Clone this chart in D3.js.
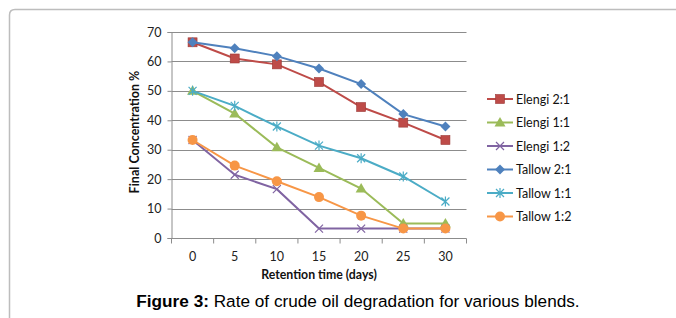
<!DOCTYPE html>
<html>
<head>
<meta charset="UTF-8">
<title>Figure 3</title>
<script src="https://d3js.org/d3.v7.min.js"></script>
<style>
  body { margin: 0; background: #fff; }
  svg { display: block; }
</style>
</head>
<body>
<div id="chart"></div>
<script>
// retention time categories (days)
const days = ["0", "5", "10", "15", "20", "25", "30"];
const yTicks = [0, 10, 20, 30, 40, 50, 60, 70];

// final concentration % per blend
const elengi21 = [66.5, 61, 59, 53, 44.5, 39.2, 33.3];
const elengi11 = [50, 42.3, 30.8, 23.8, 16.8, 4.9, 4.9];
const elengi12 = [33.3, 21.5, 16.6, 3.2, 3.2, 3.2, 3.2];
const tallow21 = [66.5, 64.5, 61.8, 57.6, 52.3, 42.1, 37.9];
const tallow11 = [50, 44.9, 37.9, 31.4, 27.1, 20.9, 12.4];
const tallow12 = [33.3, 24.6, 19.3, 13.9, 7.6, 3.2, 3.2];

const series = [
  { name: "Elengi 2:1", values: elengi21, color: "#BE4B48", marker: "square" },
  { name: "Elengi 1:1", values: elengi11, color: "#9BBB59", marker: "triangle" },
  { name: "Elengi 1:2", values: elengi12, color: "#8064A2", marker: "x" },
  { name: "Tallow 2:1", values: tallow21, color: "#4F81BD", marker: "diamond" },
  { name: "Tallow 1:1", values: tallow11, color: "#4BACC6", marker: "star" },
  { name: "Tallow 1:2", values: tallow12, color: "#F79646", marker: "circle" }
];

const width = 676, height = 318;
const plot = { left: 171.5, right: 466.5, top: 32, bottom: 238 };

const svg = d3.select("#chart").append("svg")
  .attr("width", width)
  .attr("height", height);

// outer frame with rounded top-left corner
svg.append("path")
  .attr("d", "M9.5,318 L9.5,15 Q9.5,9.5 15,9.5 L676,9.5")
  .attr("fill", "none")
  .attr("stroke", "#bdbdbd")
  .attr("stroke-width", 1.5);

const x = d3.scaleBand().domain(days).range([plot.left, plot.right]);
const y = d3.scaleLinear().domain([0, 70]).range([plot.bottom, plot.top]);

const font = "Lato, 'Open Sans', sans-serif";

// gridlines
svg.append("g")
  .selectAll("line")
  .data(yTicks.filter(d => d > 0))
  .enter().append("line")
  .attr("x1", plot.left).attr("x2", plot.right)
  .attr("y1", d => Math.round(y(d)) + 0.5).attr("y2", d => Math.round(y(d)) + 0.5)
  .attr("stroke", "#8c8c8c")
  .attr("stroke-width", 1);

// y axis
const yAxis = svg.append("g")
  .attr("transform", "translate(" + plot.left + ",0)")
  .call(d3.axisLeft(y).tickValues(yTicks).tickSize(4).tickPadding(6));
yAxis.select(".domain").attr("stroke", "#8c8c8c");
yAxis.selectAll(".tick line").attr("stroke", "#8c8c8c");
yAxis.selectAll("text").attr("font-family", font).attr("font-size", 12.5).attr("fill", "#222");

// x axis: ticks between categories
const xAxis = svg.append("g")
  .attr("transform", "translate(0," + Math.round(plot.bottom) + ".5)");
xAxis.append("line")
  .attr("x1", plot.left).attr("x2", plot.right)
  .attr("stroke", "#8c8c8c");
xAxis.selectAll(".tk")
  .data(days.concat(["end"]))
  .enter().append("line")
  .attr("x1", (d, i) => plot.left + i * x.bandwidth())
  .attr("x2", (d, i) => plot.left + i * x.bandwidth())
  .attr("y1", 0).attr("y2", 5)
  .attr("stroke", "#8c8c8c");
xAxis.selectAll("text")
  .data(days)
  .enter().append("text")
  .attr("x", d => x(d) + x.bandwidth() / 2)
  .attr("y", 22)
  .attr("text-anchor", "middle")
  .attr("font-family", font)
  .attr("font-size", 12.5)
  .attr("fill", "#222")
  .text(d => d);

// axis titles
svg.append("text")
  .attr("x", (plot.left + plot.right) / 2)
  .attr("y", 279)
  .attr("text-anchor", "middle")
  .attr("font-family", font)
  .attr("font-weight", "bold")
  .attr("font-size", 12.3)
  .attr("fill", "#111")
  .text("Retention time (days)");

svg.append("text")
  .attr("transform", "translate(138.5,132) rotate(-90)")
  .attr("text-anchor", "middle")
  .attr("font-family", font)
  .attr("font-weight", "bold")
  .attr("font-size", 12.5)
  .attr("fill", "#111")
  .text("Final Concentration %");

function drawMarker(g, type, color) {
  if (type === "square") {
    g.append("rect").attr("x", -4.5).attr("y", -4.5).attr("width", 9).attr("height", 9)
      .attr("fill", color).attr("stroke", "#9c3a37").attr("stroke-width", 0.6);
  } else if (type === "diamond") {
    g.append("path").attr("d", "M0,-5L5,0L0,5L-5,0Z").attr("fill", color);
  } else if (type === "triangle") {
    g.append("path").attr("d", "M0,-5.5L5.5,4L-5.5,4Z").attr("fill", color);
  } else if (type === "circle") {
    g.append("circle").attr("r", 5).attr("fill", color);
  } else if (type === "x") {
    g.append("path").attr("d", "M-4,-4L4,4M-4,4L4,-4")
      .attr("stroke", color).attr("stroke-width", 1.2).attr("fill", "none");
  } else if (type === "star") {
    g.append("path").attr("d", "M-4,-4L4,4M-4,4L4,-4M0,-5L0,5")
      .attr("stroke", color).attr("stroke-width", 1.2).attr("fill", "none");
  }
}

const line = d3.line()
  .x((d, i) => x(days[i]) + x.bandwidth() / 2)
  .y(d => y(d));

series.forEach(function(s) {
  const g = svg.append("g");
  g.append("path")
    .attr("d", line(s.values))
    .attr("fill", "none")
    .attr("stroke", s.color)
    .attr("stroke-width", 2);
  s.values.forEach(function(v, i) {
    const m = g.append("g")
      .attr("transform", "translate(" + (x(days[i]) + x.bandwidth() / 2) + "," + y(v) + ")");
    drawMarker(m, s.marker, s.color);
  });
});

// legend
const legend = svg.append("g").attr("transform", "translate(487,99)");
series.forEach(function(s, i) {
  const row = legend.append("g").attr("transform", "translate(0," + i * 23.5 + ")");
  row.append("line").attr("x1", 0).attr("x2", 26).attr("stroke", s.color).attr("stroke-width", 2);
  const m = row.append("g").attr("transform", "translate(13,0)");
  drawMarker(m, s.marker, s.color);
  row.append("text")
    .attr("x", 29)
    .attr("y", 4.5)
    .attr("font-family", font)
    .attr("font-size", 12.5)
    .attr("fill", "#111")
    .text(s.name);
});

// caption
const cap = svg.append("text")
  .attr("x", 358)
  .attr("y", 307)
  .attr("text-anchor", "middle")
  .attr("font-family", "'Liberation Sans', Arial, sans-serif")
  .attr("font-size", 17.2)
  .attr("fill", "#000");
cap.append("tspan").attr("font-weight", "bold").text("Figure 3:");
cap.append("tspan").text(" Rate of crude oil degradation for various blends.");
</script>
</body>
</html>
